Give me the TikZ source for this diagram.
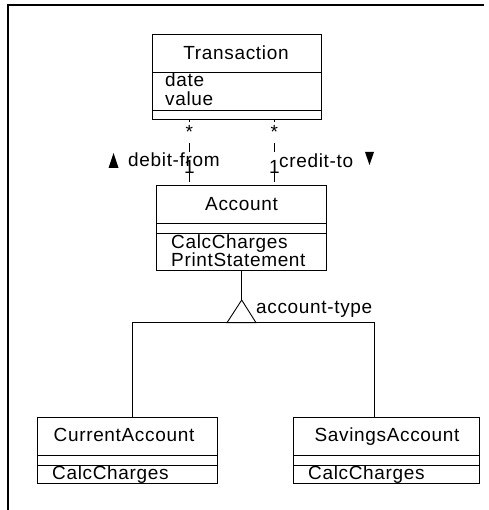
\documentclass[tikz,border=0pt]{standalone}
\usepackage{fontspec}
\setmainfont[LetterSpace=3.5]{Liberation Sans}
\begin{document}
\begin{tikzpicture}[x=1pt,y=-1pt,
  classbox/.style={draw, line width=0.9pt, rectangle, inner sep=0pt, outer sep=0pt},
  sepline/.style={line width=0.9pt},
  lbl/.style={inner sep=0pt, font=\fontsize{19}{22}\selectfont},
  assoc/.style={line width=0.8pt, dash pattern=on 9pt off 21pt, dash phase=6pt},
  link/.style={line width=0.9pt},
  frameline/.style={line width=2pt}]
\useasboundingbox (0,0) rectangle (488,510);

% page frame (left and top edges only)
\draw[frameline] (8,510) -- (8,5) -- (484,5);

% class boxes
\node[classbox, minimum width=169pt, minimum height=85pt] (trans) at (236.5,76.5) {};
\node[classbox, minimum width=170pt, minimum height=85pt] (acc) at (241,227.5) {};
\node[classbox, minimum width=180pt, minimum height=66pt] (cur) at (127,450) {};
\node[classbox, minimum width=186pt, minimum height=66pt] (sav) at (386,450) {};

% compartment separators
\draw[sepline] (trans.west |- 0,72) -- (trans.east |- 0,72);
\draw[sepline] (trans.west |- 0,110) -- (trans.east |- 0,110);
\draw[sepline] (acc.west |- 0,223) -- (acc.east |- 0,223);
\draw[sepline] (acc.west |- 0,233) -- (acc.east |- 0,233);
\draw[sepline] (cur.west |- 0,455) -- (cur.east |- 0,455);
\draw[sepline] (cur.west |- 0,465) -- (cur.east |- 0,465);
\draw[sepline] (sav.west |- 0,455) -- (sav.east |- 0,455);
\draw[sepline] (sav.west |- 0,465) -- (sav.east |- 0,465);

% class texts
\node[lbl, anchor=base] (transname) at (236,59.3) {Transaction};
\node[lbl, anchor=base west] (tdate) at (165,86.7) {date};
\node[lbl, anchor=base west] (tvalue) at (165,106) {value};
\node[lbl, anchor=base] (accname) at (241.5,210.7) {Account};
\node[lbl, anchor=base west] (acalc) at (171,248) {CalcCharges};
\node[lbl, anchor=base west] (aprint) at (171,266) {PrintStatement};
\node[lbl, anchor=base] (curname) at (124,441.7) {CurrentAccount};
\node[lbl, anchor=base west] (ccalc) at (52,479) {CalcCharges};
\node[lbl, anchor=base] (savname) at (387,441.7) {SavingsAccount};
\node[lbl, anchor=base west] (scalc) at (308,479) {CalcCharges};

% associations with multiplicities and role names
\draw[assoc] (trans.south -| 189.3,0) -- (acc.north -| 189.3,0);
\draw[assoc] (trans.south -| 274.3,0) -- (acc.north -| 274.3,0);
\node[lbl, anchor=base] (m1) at (189.3,138.5) {*};
\node[lbl, anchor=base] (m2) at (274.3,138.5) {*};
\node[lbl, anchor=base] (o1) at (189.3,174) {1};
\node[lbl, anchor=base] (o2) at (274.3,174) {1};
\node[lbl, anchor=base west] (debit) at (128,167) {debit-from};
\node[lbl, anchor=base west] (credit) at (279,168) {credit-to};
\fill (108.5,168) -- (118.5,168) -- (113.5,153) -- cycle;
\fill (365,152) -- (374,152) -- (369.5,165) -- cycle;

% generalisation
\coordinate (gen) at (241.7,300);
\coordinate (bar) at (241.5,322.7);
\draw[link] (acc.south -| gen) -- (gen);
\draw[link] (gen) -- (227,322.7) -- (256,322.7) -- cycle;
\draw[link] ([xshift=5.7pt]cur.north) |- (bar) -| ([xshift=-12pt]sav.north);
\node[lbl, anchor=base west] (gtype) at (256,313) {account-type};
\end{tikzpicture}
\end{document}
